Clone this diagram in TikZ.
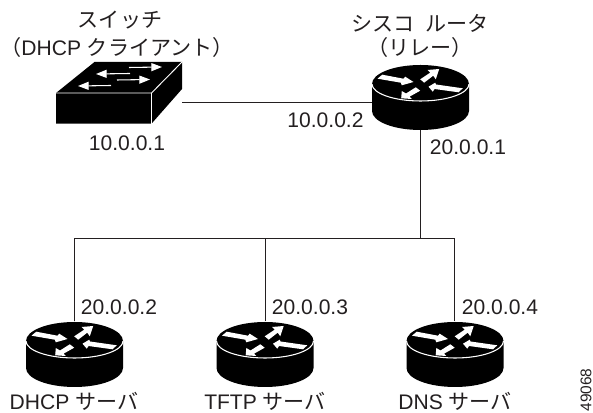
\documentclass[tikz,border=0pt]{standalone}
\usepackage{fontspec}
\setmainfont{Liberation Sans}
\newfontfamily\cjk{Noto Sans CJK JP}
\usetikzlibrary{arrows.meta}
\definecolor{ink}{HTML}{231F20}
\tikzset{
  pics/routericon/.style={code={
    \fill[black] (-48.5,0) -- (-48.5,-27) arc[start angle=180, end angle=360, x radius=48.5, y radius=19] -- (48.5,0) -- cycle;
    \fill[black] (0,0) ellipse [x radius=48.5, y radius=19];
    \draw[white, line width=0.8] (-48.5,0) arc[start angle=180, end angle=360, x radius=48.5, y radius=17];
    \fill[white] (-43,5.3) -- (-38.3,9.3) -- (-17,5.3) -- (-15.3,7.3) -- (-7,2) -- (-18.7,-1.3) -- (-19.7,1.3) -- cycle;
    \fill[white] (8,-2.7) -- (14.7,1.3) -- (15.5,-0.5) -- (42.3,-4.3) -- (38,-8.3) -- (14,-5) -- (12.3,-7.7) -- cycle;
    \fill[white] (-0.3,4.7) -- (9.7,11.3) -- (7,14) -- (18.7,15) -- (15.3,4.7) -- (12.7,8.3) -- (3.7,1.3) -- cycle;
    \fill[white] (-19.3,-14.3) -- (-18.7,-7) -- (-14.5,-9.5) -- (-4.7,-3.3) -- (-0.3,-6.7) -- (-11,-12.7) -- (-8.7,-15) -- cycle;
  }},
  pics/switchicon/.style={code={
    \fill[black] (56,320) -- (94.5,351) -- (182,351) -- (182,324) -- (151.5,289.3) -- (56,289.3) -- cycle;
    \draw[white, line width=0.7] (56,320) -- (151.5,320) -- (182,351);
    \draw[white, line width=0.7] (151.5,320) -- (151.5,289.3);
    \draw[white, line width=0.8, -{Triangle[length=8, width=6]}] (129,345.5) -- (162,346);
    \draw[white, line width=0.8, -{Triangle[length=8, width=6]}] (130,339.5) -- (96,339);
    \draw[white, line width=0.8, -{Triangle[length=8, width=6]}] (117,333) -- (150,333.5);
    \draw[white, line width=0.8, -{Triangle[length=8, width=6]}] (111,327.5) -- (78,327);
  }},
  lbl/.style={inner sep=0pt, text=ink, font=\fontsize{15.8}{18}\selectfont},
  box/.style={inner sep=0pt, minimum width=97*0.75pt, minimum height=65*0.75pt},
  wire/.style={draw=ink, line width=0.7}
}
\begin{document}
\begin{tikzpicture}[x=0.75pt, y=0.75pt]
    \useasboundingbox (0,0) rectangle (593,413);

    \node[inner sep=0pt, minimum width=126*0.75pt, minimum height=62*0.75pt] (switch) at (119,320) {};
    \node[box] (relay) at (420.5,316.5) {};
    \node[box] (dhcp) at (74.5,59.5) {};
    \node[box] (tftp) at (265,59.5) {};
    \node[box] (dns) at (455,59.5) {};

    \coordinate (busl) at (74.5,174.5);
    \coordinate (busm) at (265,174.5);
    \coordinate (busc) at (420.5,174.5);
    \coordinate (busr) at (454.5,174.5);

    \draw[wire] (switch.east |- 0,311) -- (relay.west |- 0,311);
    \draw[wire] (relay.south) -- (busc);
    \draw[wire] (busl) -- (busr);
    \draw[wire] (busl) -- (dhcp.north);
    \draw[wire] (busm) -- (tftp.north);
    \draw[wire] (busr) -- (dns.north -| busr);

    \pic at (0,0) {switchicon};
    \pic at (420.5,329) {routericon};
    \pic at (74.5,72) {routericon};
    \pic at (265,72) {routericon};
    \pic at (455,72) {routericon};

    \node[lbl] (swname) at (120,393) {\cjk スイッチ};
    \node[lbl] (swrole) at (117,365) {\cjk （\rmfamily DHCP \cjk クライアント）};
    \node[lbl] (swip) at (127,270) {10.0.0.1};
    \node[lbl] (relayip) at (325.5,293) {10.0.0.2};
    \node[lbl] (relayname) at (420,390) {\cjk シスコ\hspace{0.3em} ルータ};
    \node[lbl] (relayrole) at (420,365) {\cjk （リレー）};
    \node[lbl] (relaydown) at (468,266) {20.0.0.1};
    \node[lbl] (dhcpip) at (119,106) {20.0.0.2};
    \node[lbl] (tftpip) at (310,106) {20.0.0.3};
    \node[lbl] (dnsip) at (500,106) {20.0.0.4};
    \node[lbl] (dhcpname) at (74,12) {DHCP \cjk サーバ};
    \node[lbl] (tftpname) at (265,12) {TFTP \cjk サーバ};
    \node[lbl] (dnsname) at (455,12) {DNS \cjk サーバ};
    \node[inner sep=0pt, text=ink, font=\fontsize{11.6}{13}\selectfont, rotate=90] (figid) at (586,23) {49068};
\end{tikzpicture}
\end{document}
